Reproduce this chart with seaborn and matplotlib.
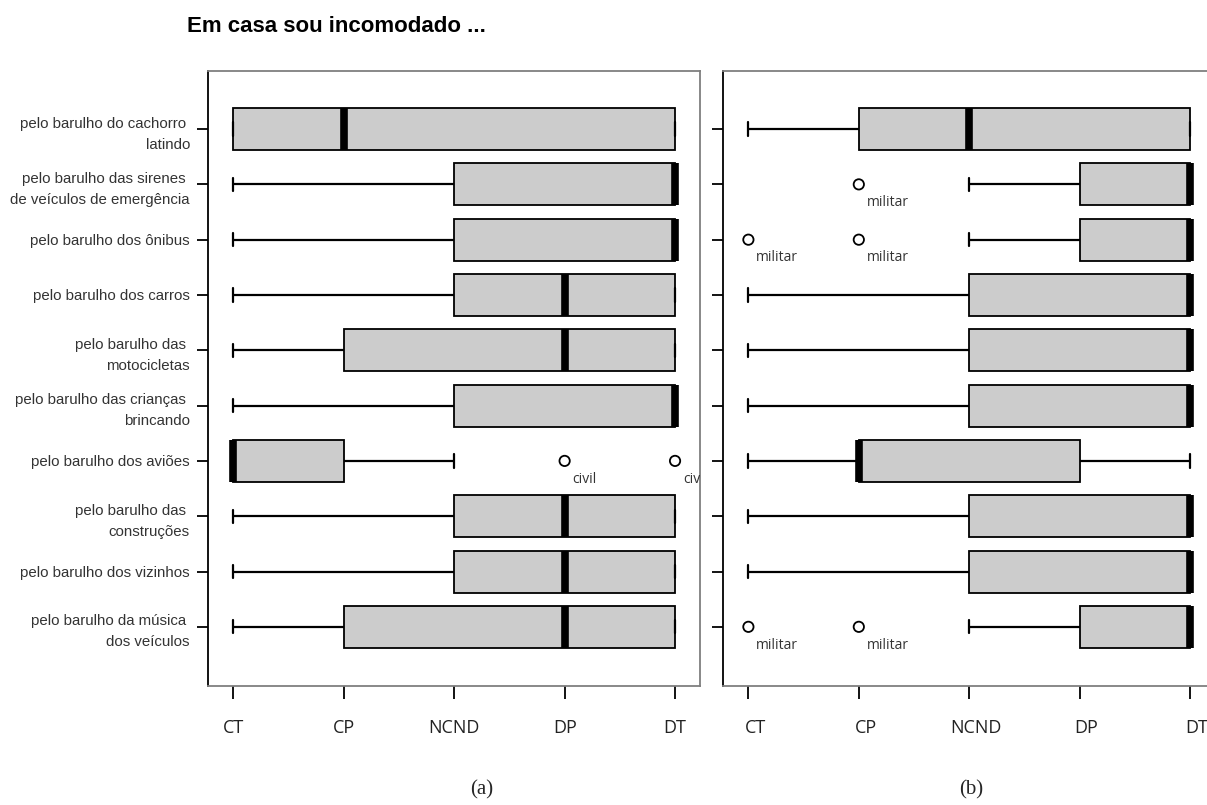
import numpy as np
import pandas as pd
import matplotlib
matplotlib.use("Agg")
import matplotlib.pyplot as plt
import seaborn as sns

# Likert scale used on the x axis
scale_labels = ["CT", "CP", "NCND", "DP", "DT"]
scale_values = [1, 2, 3, 4, 5]

items = [
    "pelo barulho do cachorro \nlatindo",
    "pelo barulho das sirenes \nde veículos de emergência",
    "pelo barulho dos ônibus",
    "pelo barulho dos carros",
    "pelo barulho das \nmotocicletas",
    "pelo barulho das crianças \nbrincando",
    "pelo barulho dos aviões",
    "pelo barulho das \nconstruções",
    "pelo barulho dos vizinhos",
    "pelo barulho da música \ndos veículos",
]

# (a) five-number summaries per item
a_low = [1, 1, 1, 1, 1, 1, 1, 1, 1, 1]
a_q1 = [1, 3, 3, 3, 2, 3, 1, 3, 3, 2]
a_med = [2, 5, 5, 4, 4, 5, 1, 4, 4, 4]
a_q3 = [5, 5, 5, 5, 5, 5, 2, 5, 5, 5]
a_high = [5, 5, 5, 5, 5, 5, 3, 5, 5, 5]
a_out_item = [6, 6]
a_out_value = [4, 5]
a_out_label = ["civil", "civil"]

# (b) five-number summaries per item
b_low = [1, 3, 3, 1, 1, 1, 1, 1, 1, 3]
b_q1 = [2, 4, 4, 3, 3, 3, 2, 3, 3, 4]
b_med = [3, 5, 5, 5, 5, 5, 2, 5, 5, 5]
b_q3 = [5, 5, 5, 5, 5, 5, 4, 5, 5, 5]
b_high = [5, 5, 5, 5, 5, 5, 5, 5, 5, 5]
b_out_item = [1, 2, 2, 9, 9]
b_out_value = [2, 1, 2, 1, 2]
b_out_label = ["militar", "militar", "militar", "militar", "militar"]

title = "Em casa sou incomodado ..."
captions = ["(a)", "(b)"]


def summary_frame(low, q1, med, q3, high):
    rows = []
    for i, item in enumerate(items):
        for v in (low[i], q1[i], med[i], q3[i], high[i]):
            rows.append({"item": item, "valor": v})
    return pd.DataFrame(rows)


sns.set_theme(style="white")
plt.rcParams["font.family"] = ["Liberation Sans", "DejaVu Sans"]

W, H = 1207, 805
fig = plt.figure(figsize=(W / 100, H / 100), dpi=100)

ax_left, ax_w = 208 / W, 492 / W
ax_bottom, ax_h = 1 - 686 / H, (686 - 71) / H
ax_a = fig.add_axes([ax_left, ax_bottom, ax_w, ax_h])
ax_b = fig.add_axes([723 / W, ax_bottom, ax_w, ax_h])

panels = [
    (ax_a, summary_frame(a_low, a_q1, a_med, a_q3, a_high),
     a_out_item, a_out_value, a_out_label),
    (ax_b, summary_frame(b_low, b_q1, b_med, b_q3, b_high),
     b_out_item, b_out_value, b_out_label),
]

tick_font = dict(family=["Open Sans", "DejaVu Sans"], fontsize=13,
                 color="#222222")

for k, (ax, df, o_item, o_val, o_lab) in enumerate(panels):
    sns.boxplot(
        data=df, x="valor", y="item", order=items, orient="h",
        whis=(0, 100), width=0.76, color="#cccccc", saturation=1,
        linecolor="black", linewidth=1.3, fliersize=0, ax=ax,
        medianprops={"color": "black", "linewidth": 5.5,
                     "solid_capstyle": "butt"},
        capprops={"color": "black", "linewidth": 1.6},
        whiskerprops={"color": "black", "linewidth": 1.6},
        capwidths=0.24,
    )
    sns.scatterplot(
        x=o_val, y=o_item, ax=ax, marker="o", s=55,
        facecolor="none", edgecolor="black", linewidth=1.3, zorder=5,
    )
    for it, v, lab in zip(o_item, o_val, o_lab):
        ax.text(v + 0.07, it + 0.33, lab, fontsize=10,
                family=["Open Sans", "DejaVu Sans"], color="#333333",
                ha="left", va="center", clip_on=True)

    ax.set_xlim(0.77, 5.226)
    ax.set_ylim(len(items) - 1 + 1.07, -1.05)
    ax.set_xlabel("")
    ax.set_ylabel("")
    ax.set_yticks(range(len(items)))
    if k == 0:
        ax.set_xticks(scale_values)
        ax.set_xticklabels(scale_labels, **tick_font)
        ax.set_yticklabels(items, fontsize=10.8, color="#333333",
                           linespacing=1.65)
    else:
        # tick marks on the scale points, labels set a little to the right
        ax.set_xticks(scale_values)
        ax.set_xticklabels([])
        ax.set_xticks([v + 0.063 for v in scale_values], minor=True)
        ax.set_xticklabels(scale_labels, minor=True, **tick_font)
        ax.tick_params(axis="x", which="minor", bottom=True, length=0,
                       pad=23.5)
        ax.set_yticklabels([])
    ax.tick_params(axis="x", which="major", bottom=True, length=9.5,
                   width=1.3, pad=14, color="black")
    ax.tick_params(axis="y", left=True, length=8, width=1.3,
                   pad=5, color="black")
    for name, sp in ax.spines.items():
        sp.set_visible(True)
        sp.set_linewidth(1.3)
        sp.set_color("black" if name == "left" else "#7f7f7f")

fig.text(187 / W, 1 - 27 / H, title, fontsize=16, fontweight="bold",
         color="black", ha="left", va="center")
fig.text(482 / W, 1 - 790 / H, captions[0], fontsize=15,
         family=["Liberation Serif", "DejaVu Serif"], ha="center", va="center")
fig.text(971 / W, 1 - 790 / H, captions[1], fontsize=15,
         family=["Liberation Serif", "DejaVu Serif"], ha="center", va="center")

fig.savefig("out.png", dpi=100)
